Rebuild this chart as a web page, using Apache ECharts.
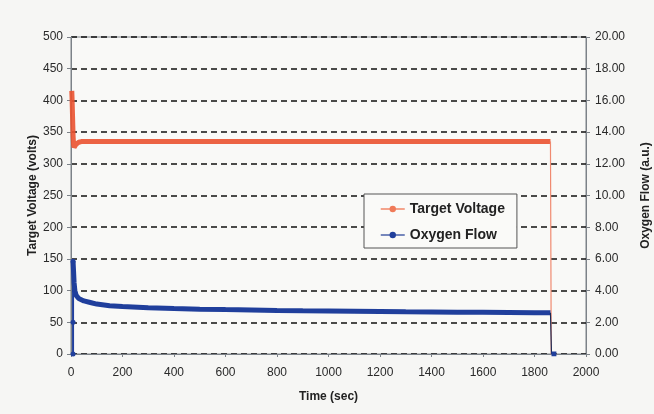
<!DOCTYPE html>
<html>
<head>
<meta charset="utf-8">
<script src="https://cdn.jsdelivr.net/npm/echarts@6/dist/echarts.min.js"></script>
<style>
html,body{margin:0;padding:0;background:#f6f6f4;}
#chart{width:654px;height:414px;}
</style>
</head>
<body>
<div id="chart"></div>
<script>
// ---- data ----
var voltTime = [3, 4, 5, 6, 7, 8, 10, 12, 15, 20, 25, 30, 40, 60, 100, 200, 400, 600, 800, 1000, 1200, 1400, 1600, 1800, 1862];
var voltVals = [415, 405, 390, 375, 360, 345, 330, 326, 328, 331, 333, 334, 335, 335, 335, 335, 335, 335, 335, 335, 335, 335, 335, 335, 335];
var voltDropTime = [1862, 1865, 1885];
var voltDropVals = [335, 0, 0];

var oxyStartTime = [8, 8, 8];
var oxyStartVals = [0, 2.0, 5.85];
var oxyTime = [8, 10, 12, 15, 20, 25, 30, 50, 75, 100, 150, 200, 300, 400, 500, 600, 700, 800, 900, 1000, 1100, 1200, 1300, 1400, 1500, 1600, 1700, 1800, 1862];
var oxyVals = [5.85, 5.2, 4.5, 4.0, 3.7, 3.6, 3.5, 3.35, 3.25, 3.15, 3.05, 3.0, 2.92, 2.87, 2.83, 2.8, 2.78, 2.75, 2.73, 2.72, 2.7, 2.68, 2.66, 2.65, 2.64, 2.63, 2.62, 2.61, 2.6];
var oxyDropTime = [1862, 1866];
var oxyDropVals = [2.6, 0];
var oxyTailTime = [1866, 1885];
var oxyTailVals = [0, 0];

var leftTicks = [0, 500, 50];
var rightTicks = [0, 20, 2];
var xTicks = [0, 2000, 200];

function pairs(t, v) { return t.map(function (x, i) { return [x, v[i]]; }); }

var RED = '#ea5230';
var BLUE = '#203f9c';
var font = 'Arial, "Liberation Sans", sans-serif';

var chart = echarts.init(document.getElementById('chart'), null, {renderer: 'canvas'});
chart.setOption({
  backgroundColor: '#f6f6f4',
  animation: false,
  textStyle: {fontFamily: font},
  grid: {left: 71, right: 68, top: 37, bottom: 60, outerBoundsMode: 'none', containLabel: false,
         show: true, borderColor: '#7c8288', borderWidth: 1, backgroundColor: '#f9f9f7'},
  legend: {
    left: 364, top: 194, orient: 'vertical',
    backgroundColor: '#fafaf8', borderColor: '#555', borderWidth: 1,
    padding: [8, 12, 6, 16], itemGap: 12, itemWidth: 24, itemHeight: 8,
    textStyle: {fontFamily: font, fontWeight: 'bold', fontSize: 14, color: '#222'},
    data: [
      {name: 'Target Voltage', itemStyle: {color: '#f07a58'}, lineStyle: {color: '#f07a58', width: 1.5}},
      {name: 'Oxygen Flow', itemStyle: {color: BLUE}, lineStyle: {color: '#4a60a8', width: 1.5}}
    ]
  },
  xAxis: {
    type: 'value', min: xTicks[0], max: xTicks[1], interval: xTicks[2],
    name: 'Time (sec)', nameLocation: 'middle', nameGap: 37, nameMoveOverlap: false,
    nameTextStyle: {fontWeight: 'bold', fontSize: 12, color: '#222', fontFamily: font},
    axisLine: {show: true, lineStyle: {color: '#7c8288'}},
    axisTick: {show: true, length: 3, lineStyle: {color: '#7c8288'}},
    axisLabel: {fontSize: 12, color: '#2a2a2a', margin: 13, fontFamily: font, formatter: function (v) { return String(v); }},
    splitLine: {show: false}
  },
  yAxis: [
    {
      type: 'value', min: leftTicks[0], max: leftTicks[1], interval: leftTicks[2], position: 'left',
      name: 'Target Voltage (volts)', nameLocation: 'middle', nameGap: 32, nameRotate: 90, nameMoveOverlap: false,
      nameTextStyle: {fontWeight: 'bold', fontSize: 12, color: '#222', fontFamily: font},
      axisLine: {show: true, lineStyle: {color: '#7c8288'}},
      axisTick: {show: true, length: 4, lineStyle: {color: '#7c8288'}},
      axisLabel: {fontSize: 12, color: '#2a2a2a', margin: 8, fontFamily: font},
      splitLine: {show: true, lineStyle: {color: '#111', width: 1.5, type: [6, 4]}}
    },
    {
      type: 'value', min: rightTicks[0], max: rightTicks[1], interval: rightTicks[2], position: 'right',
      name: 'Oxygen Flow (a.u.)', nameLocation: 'middle', nameGap: 54, nameRotate: 90, nameMoveOverlap: false,
      nameTextStyle: {fontWeight: 'bold', fontSize: 12, color: '#222', fontFamily: font},
      axisLine: {show: true, lineStyle: {color: '#7c8288'}},
      axisTick: {show: true, length: 4, lineStyle: {color: '#7c8288'}},
      axisLabel: {fontSize: 12, color: '#2a2a2a', margin: 9, fontFamily: font, formatter: function (v) { return v.toFixed(2); }},
      splitLine: {show: false}
    }
  ],
  series: [
    {
      name: 'Target Voltage', type: 'line', yAxisIndex: 0, data: pairs(voltTime, voltVals),
      symbol: 'circle', symbolSize: 4, showSymbol: false, z: 3,
      lineStyle: {color: RED, width: 5, opacity: 0.9}, itemStyle: {color: RED}
    },
    {
      name: 'Target Voltage', type: 'line', yAxisIndex: 0, data: pairs(voltDropTime, voltDropVals),
      symbol: 'none', z: 3, lineStyle: {color: '#f08a70', width: 1.2}, itemStyle: {color: RED}
    },
    {
      name: 'Oxygen Flow', type: 'line', yAxisIndex: 1, data: pairs(oxyStartTime, oxyStartVals),
      symbol: 'circle', symbolSize: 5, showSymbol: true, z: 4,
      lineStyle: {color: BLUE, width: 2}, itemStyle: {color: BLUE}
    },
    {
      name: 'Oxygen Flow', type: 'line', yAxisIndex: 1, data: pairs(oxyTime, oxyVals),
      symbol: 'circle', symbolSize: 4, showSymbol: false, z: 4,
      lineStyle: {color: BLUE, width: 5}, itemStyle: {color: BLUE}
    },
    {
      name: 'Oxygen Flow', type: 'line', yAxisIndex: 1, data: pairs(oxyDropTime, oxyDropVals),
      symbol: 'none', z: 4, lineStyle: {color: '#1a2a55', width: 1.2}, itemStyle: {color: BLUE}
    },
    {
      name: 'Oxygen Flow', type: 'line', yAxisIndex: 1, data: pairs(oxyTailTime, oxyTailVals),
      symbol: 'none', z: 4, lineStyle: {color: BLUE, width: 5}, itemStyle: {color: BLUE}
    }
  ]
});
</script>
</body>
</html>
